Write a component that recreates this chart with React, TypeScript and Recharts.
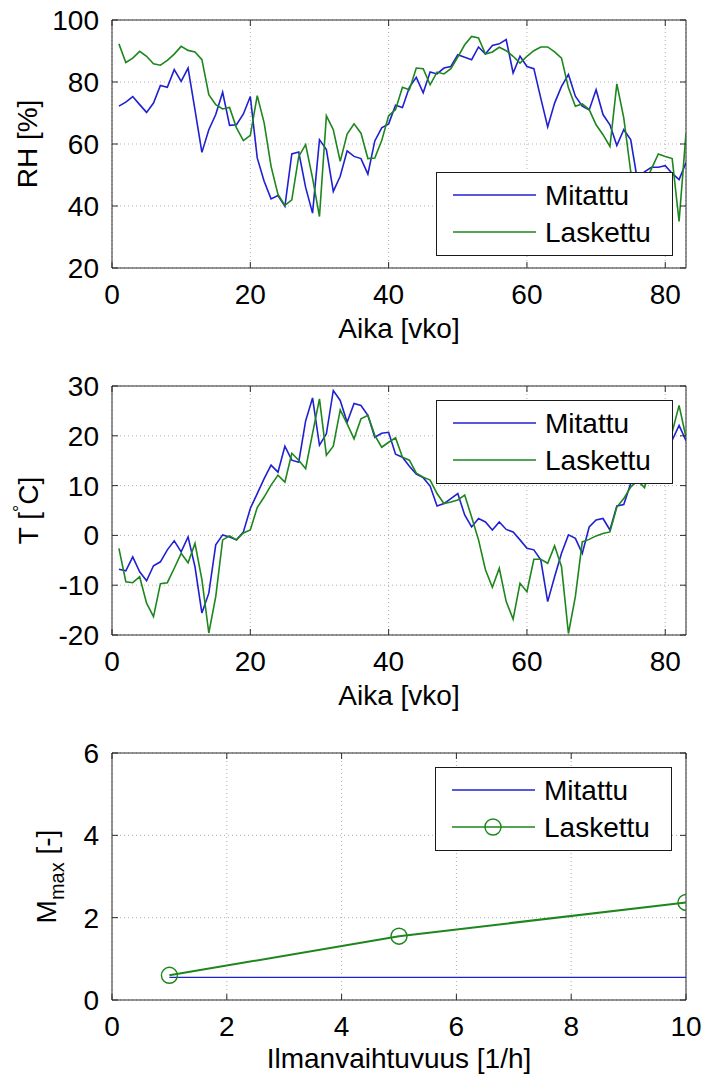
import { CartesianGrid, Legend, Line, LineChart, ReferenceArea, XAxis, YAxis } from 'recharts';

const FONT = '"Liberation Sans", Arial, Helvetica, sans-serif';
const BLUE = '#2020d0';
const GREEN = '#1d861d';
const AXIS = '#2a2a2a';

// viikot 1..83
const weeks = [
  1, 2, 3, 4, 5, 6, 7, 8, 9, 10, 11, 12, 13, 14, 15, 16, 17, 18, 19, 20,
  21, 22, 23, 24, 25, 26, 27, 28, 29, 30, 31, 32, 33, 34, 35, 36, 37, 38, 39, 40,
  41, 42, 43, 44, 45, 46, 47, 48, 49, 50, 51, 52, 53, 54, 55, 56, 57, 58, 59, 60,
  61, 62, 63, 64, 65, 66, 67, 68, 69, 70, 71, 72, 73, 74, 75, 76, 77, 78, 79, 80,
  81, 82, 83,
];

const rhMitattu = [
  72.2, 73.5, 75.3, 72.7, 70.2, 73.2, 78.9, 78.3, 84, 80.2, 84.5, 71, 57.3, 64.6, 69.5, 76.7, 66, 66.2, 69.7, 75.3,
  55.5, 48, 42.3, 43.4, 39.9, 56.8, 57.4, 46, 37.7, 61.4, 58.2, 44.7, 49.6, 57.8, 56, 55.3, 50.3, 61, 65.2, 66.5,
  72.5, 71.8, 78.3, 81.5, 76.5, 83.2, 82.6, 84.5, 85, 88.8, 88, 87.2, 91.3, 89, 91.8, 92.3, 93.7, 82.9, 88.3, 85,
  84.3, 74.8, 65.5, 73.2, 78.6, 82.4, 75.4, 72.2, 71, 77.5, 69.5, 66.2, 59.5, 64.6, 61.4, 48, 51, 52.5, 52.5, 53,
  50.5, 48.5, 54,
];

const rhLaskettu = [
  92.3, 86.3, 87.7, 89.9, 88.3, 85.9, 85.4, 87, 89, 91.5, 90.2, 89.7, 87.2, 75.9, 72.7, 71.3, 71.8, 65.2, 61.1, 62.8,
  75.6, 66.8, 52.8, 43.7, 40.2, 42, 56, 59.8, 49, 36.6, 69.1, 64.6, 54.4, 63.2, 66.5, 63.5, 55.3, 55.5, 61.1, 69.1,
  71.1, 78.3, 77.5, 84.5, 84.3, 79.1, 83.2, 82.6, 84.3, 88, 92, 94.7, 94.2, 89, 89.7, 91.2, 90.1, 88.3, 86.1, 88.3,
  90.1, 91.3, 91.3, 89.7, 87.7, 78.1, 72.2, 72.9, 71.1, 66.2, 63, 59.2, 79.4, 68.4, 51.2, 45, 47, 52, 56.8, 56,
  55.3, 35, 63.5,
];

const tMitattu = [
  -6.8, -7.1, -4.3, -7.3, -9.1, -6.1, -5.3, -2.9, -1.1, -3.3, -0.3, -6.3, -15.6, -11.6, -1.9, 0.1, -0.3, -0.9, 0.7, 5.4,
  8.4, 11.4, 14.1, 12.7, 17.9, 15.1, 14.7, 23, 27.6, 18.1, 20.4, 29.1, 27.1, 22.7, 26.5, 26.1, 24.1, 19.7, 20.5, 20.7,
  16.3, 15.7, 13.9, 12.3, 11.6, 9.9, 5.9, 6.4, 7.4, 8.4, 4.1, 1.7, 3.4, 2.7, 1.1, 2.7, 1.2, 0.7, -0.9, -2.6,
  -2.9, -4.9, -13.3, -8.3, -3.6, 0.1, -0.6, -3.6, 1.7, 3.1, 3.4, 1.1, 5.9, 6.2, 10.4, 13, 11, 14, 16, 19,
  19.1, 22.1, 19,
];

const tLaskettu = [
  -2.6, -9.3, -9.5, -8.3, -13.6, -16.3, -9.7, -9.5, -6.6, -3.6, -5.5, -1.6, -8.9, -19.6, -12.3, -0.9, -0.1, -0.9, 0.5, 1.1,
  5.6, 7.7, 10.1, 12.1, 10.7, 16.5, 15.1, 13.4, 20.5, 27.4, 16.1, 17.9, 25.2, 22.4, 19.4, 23.4, 24.1, 20.1, 17.7, 18.7,
  19.6, 15.7, 15.1, 12.5, 11.7, 11.1, 8.4, 6.4, 6.7, 7.1, 8.1, 3.7, -0.9, -6.9, -10.4, -6.6, -13.3, -16.8, -9.6, -11.3,
  -4.8, -4.8, -5.6, -2.1, -6.3, -19.7, -12.3, -1.3, -0.8, -0.1, 0.4, 0.7, 5.7, 7.4, 9.7, 11, 9.6, 15, 18, 20,
  20.7, 26.1, 19.7,
];

const weekTicks = [0, 20, 40, 60, 80];
const rhTicks = [20, 40, 60, 80, 100];
const tTicks = [-20, -10, 0, 10, 20, 30];

// ilmanvaihtuvuus [1/h]
const ach = [1, 5, 10];
const mmaxMitattu = [0.55, 0.55, 0.55];
const mmaxLaskettu = [0.6, 1.55, 2.37];
const achTicks = [0, 2, 4, 6, 8, 10];
const mmaxTicks = [0, 2, 4, 6];

const rhData = weeks.map((w, i) => ({ x: w, mitattu: rhMitattu[i], laskettu: rhLaskettu[i] }));
const tData = weeks.map((w, i) => ({ x: w, mitattu: tMitattu[i], laskettu: tLaskettu[i] }));
const mmaxData = ach.map((a, i) => ({ x: a, mitattu: mmaxMitattu[i], laskettu: mmaxLaskettu[i] }));

const PLOT_W = 574;

function makeXTick(plotH: number) {
  return (props: any) => {
    const { x, y, payload } = props;
    return (
      <g>
        <line x1={x} x2={x} y1={y} y2={y - 6} stroke={AXIS} />
        <line x1={x} x2={x} y1={y - plotH} y2={y - plotH + 6} stroke={AXIS} />
        <text x={x} y={y + 36} textAnchor="middle" fontSize={28} fontFamily={FONT} fill="#000">
          {payload.value}
        </text>
      </g>
    );
  };
}

function YTick(props: any) {
  const { x, y, payload } = props;
  return (
    <g>
      <line x1={x} x2={x + 6} y1={y} y2={y} stroke={AXIS} />
      <line x1={x + PLOT_W} x2={x + PLOT_W - 6} y1={y} y2={y} stroke={AXIS} />
      <text x={x - 13} y={y + 10} textAnchor="end" fontSize={28} fontFamily={FONT} fill="#000">
        {payload.value}
      </text>
    </g>
  );
}

function XTitle({ baseY, title }: { baseY: number; title: string }) {
  return (
    <text x={112 + PLOT_W / 2} y={baseY} textAnchor="middle" fontSize={28} fontFamily={FONT} fill="#000">
      {title}
    </text>
  );
}

function YTitle({ baseX, midY, kind }: { baseX: number; midY: number; kind: string }) {
  let inner: any = 'RH [%]';
  if (kind === 'T') {
    inner = (
      <>
        <tspan>T [</tspan>
        <tspan dy={-12} fontSize={18}>°</tspan>
        <tspan dy={12}>C]</tspan>
      </>
    );
  }
  if (kind === 'M') {
    inner = (
      <>
        <tspan>M</tspan>
        <tspan dy={8} fontSize={20}>max</tspan>
        <tspan dy={-8}> [-]</tspan>
      </>
    );
  }
  return (
    <text
      x={baseX}
      y={midY}
      transform={`rotate(-90 ${baseX} ${midY})`}
      textAnchor="middle"
      fontSize={28}
      fontFamily={FONT}
      fill="#000"
    >
      {inner}
    </text>
  );
}

function LegendBox({ marker }: { marker: boolean }) {
  const rows = [
    { name: 'Mitattu', color: BLUE, cy: 23, circle: false },
    { name: 'Laskettu', color: GREEN, cy: 60, circle: marker },
  ];
  return (
    <svg width={237} height={84} style={{ display: 'block' }}>
      <rect x={0.5} y={0.5} width={236} height={83} fill="#fff" stroke="#1a1a1a" />
      {rows.map((r) => (
        <g key={r.name}>
          <line x1={17} x2={100} y1={r.cy} y2={r.cy} stroke={r.color} strokeWidth={1.6} />
          {r.circle ? <circle cx={58} cy={r.cy} r={8} fill="none" stroke={r.color} strokeWidth={1.4} /> : null}
          <text x={109} y={r.cy + 10} fontSize={28} fontFamily={FONT} fill="#000">
            {r.name}
          </text>
        </g>
      ))}
    </svg>
  );
}

interface PanelProps {
  data: { x: number; mitattu: number; laskettu: number }[];
  top: number;
  plotH: number;
  xDomain: [number, number];
  xTicks: number[];
  yDomain: [number, number];
  yTicks: number[];
  xTitle: string;
  xTitleOffset: number;
  yKind: string;
  yTitleX: number;
  legendLeft: number;
  legendTop: number;
  markers?: boolean;
}

function Panel(p: PanelProps) {
  const height = 20 + p.plotH + 77;
  return (
    <div style={{ position: 'absolute', left: 0, top: p.top }}>
      <LineChart width={704} height={height} data={p.data} margin={{ top: 20, right: 18, left: 0, bottom: 0 }}>
        <CartesianGrid stroke="#b0b0b0" strokeDasharray="1 3" />
        <XAxis
          type="number"
          dataKey="x"
          domain={p.xDomain}
          ticks={p.xTicks}
          interval={0}
          height={77}
          tickSize={0}
          tickMargin={0}
          axisLine={false}
          tickLine={false}
          tick={makeXTick(p.plotH)}
          allowDataOverflow
          label={<XTitle baseY={20 + p.plotH + p.xTitleOffset} title={p.xTitle} />}
        />
        <YAxis
          type="number"
          domain={p.yDomain}
          ticks={p.yTicks}
          interval={0}
          width={112}
          tickSize={0}
          tickMargin={0}
          axisLine={false}
          tickLine={false}
          tick={YTick}
          allowDataOverflow
          label={<YTitle baseX={p.yTitleX} midY={20 + p.plotH / 2} kind={p.yKind} />}
        />
        <ReferenceArea
          x1={p.xDomain[0]}
          x2={p.xDomain[1]}
          y1={p.yDomain[0]}
          y2={p.yDomain[1]}
          fill="none"
          stroke={AXIS}
          strokeWidth={1}
          ifOverflow="visible"
        />
        <Line
          dataKey="mitattu"
          stroke={BLUE}
          strokeWidth={p.markers ? 1.3 : 1.6}
          dot={false}
          isAnimationActive={false}
        />
        <Line
          dataKey="laskettu"
          stroke={GREEN}
          strokeWidth={p.markers ? 2 : 1.6}
          dot={p.markers ? { r: 8, fill: 'none', stroke: GREEN, strokeWidth: 1.4 } : false}
          isAnimationActive={false}
        />
        <Legend
          layout="vertical"
          verticalAlign="middle"
          align="center"
          wrapperStyle={{ position: 'absolute', left: p.legendLeft, top: p.legendTop, width: 237, height: 84 }}
          content={() => <LegendBox marker={!!p.markers} />}
        />
      </LineChart>
    </div>
  );
}

export default function App() {
  return (
    <div style={{ position: 'absolute', left: 0, top: 0, width: 704, height: 1080, background: '#fff' }}>
      <Panel
        data={rhData}
        top={0}
        plotH={248}
        xDomain={[0, 83]}
        xTicks={weekTicks}
        yDomain={[20, 100]}
        yTicks={rhTicks}
        xTitle="Aika [vko]"
        xTitleOffset={70}
        yKind="RH"
        yTitleX={37}
        legendLeft={436}
        legendTop={172}
      />
      <Panel
        data={tData}
        top={366}
        plotH={249}
        xDomain={[0, 83]}
        xTicks={weekTicks}
        yDomain={[-20, 30]}
        yTicks={tTicks}
        xTitle="Aika [vko]"
        xTitleOffset={70}
        yKind="T"
        yTitleX={38}
        legendLeft={436}
        legendTop={34}
      />
      <Panel
        data={mmaxData}
        top={733}
        plotH={247}
        xDomain={[0, 10]}
        xTicks={achTicks}
        yDomain={[0, 6]}
        yTicks={mmaxTicks}
        xTitle="Ilmanvaihtuvuus [1/h]"
        xTitleOffset={68}
        yKind="M"
        yTitleX={56}
        legendLeft={435}
        legendTop={34}
        markers
      />
    </div>
  );
}
